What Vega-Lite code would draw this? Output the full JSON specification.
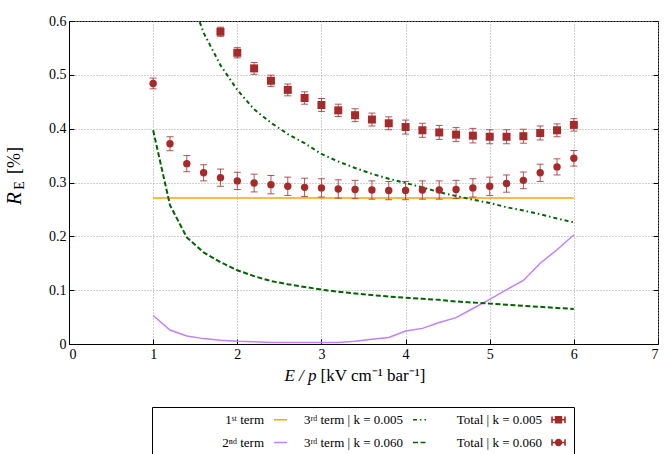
{
  "$schema": "https://vega.github.io/schema/vega-lite/v6.json",
  "width": 589,
  "height": 323,
  "autosize": "none",
  "padding": {"left": 69, "top": 21, "right": 6, "bottom": 110},
  "background": "white",
  "config": {
    "font": "Liberation Serif, Times New Roman, serif",
    "view": {"stroke": "black", "strokeWidth": 1},
    "axis": {
      "labelFont": "Liberation Serif, Times New Roman, serif", "labelFontSize": 14, "labelColor": "black",
      "titleFont": "Liberation Serif, Times New Roman, serif", "titleColor": "black", "titleFontWeight": "normal",
      "domainColor": "black", "tickColor": "black", "tickSize": -5,
      "gridColor": "#a0a0a0", "gridDash": [1, 2], "gridWidth": 1
    },
    "legend": {
      "title": null, "orient": "none", "legendX": 83, "legendY": 386,
      "direction": "horizontal", "columns": 3, "gridAlign": "all",
      "columnPadding": 5, "rowPadding": 8, "padding": 5, "strokeColor": "black",
      "symbolSize": 169, "symbolStrokeWidth": 1.6, "symbolFillColor": "#a52a2a", "symbolOpacity": 1,
      "symbolOffset": 116, "labelAlign": "right", "labelOffset": -24,
      "labelFont": "Liberation Serif, Times New Roman, serif", "labelFontSize": 13, "labelColor": "black", "labelLimit": 200
    }
  },
  "datasets": {
    "lines1": [
      {"x": 1.0, "y": 0.271, "series": "1ˢᵗ term"},
      {"x": 6.0, "y": 0.271, "series": "1ˢᵗ term"},
      {"x": 1.0, "y": 0.053, "series": "2ⁿᵈ term"},
      {"x": 1.2, "y": 0.026, "series": "2ⁿᵈ term"},
      {"x": 1.4, "y": 0.015, "series": "2ⁿᵈ term"},
      {"x": 1.6, "y": 0.010, "series": "2ⁿᵈ term"},
      {"x": 1.8, "y": 0.007, "series": "2ⁿᵈ term"},
      {"x": 2.0, "y": 0.005, "series": "2ⁿᵈ term"},
      {"x": 2.2, "y": 0.004, "series": "2ⁿᵈ term"},
      {"x": 2.4, "y": 0.003, "series": "2ⁿᵈ term"},
      {"x": 2.6, "y": 0.003, "series": "2ⁿᵈ term"},
      {"x": 2.8, "y": 0.003, "series": "2ⁿᵈ term"},
      {"x": 3.0, "y": 0.003, "series": "2ⁿᵈ term"},
      {"x": 3.2, "y": 0.003, "series": "2ⁿᵈ term"},
      {"x": 3.4, "y": 0.005, "series": "2ⁿᵈ term"},
      {"x": 3.6, "y": 0.009, "series": "2ⁿᵈ term"},
      {"x": 3.8, "y": 0.012, "series": "2ⁿᵈ term"},
      {"x": 4.0, "y": 0.024, "series": "2ⁿᵈ term"},
      {"x": 4.2, "y": 0.029, "series": "2ⁿᵈ term"},
      {"x": 4.4, "y": 0.040, "series": "2ⁿᵈ term"},
      {"x": 4.6, "y": 0.049, "series": "2ⁿᵈ term"},
      {"x": 4.8, "y": 0.066, "series": "2ⁿᵈ term"},
      {"x": 5.0, "y": 0.083, "series": "2ⁿᵈ term"},
      {"x": 5.2, "y": 0.101, "series": "2ⁿᵈ term"},
      {"x": 5.4, "y": 0.118, "series": "2ⁿᵈ term"},
      {"x": 5.6, "y": 0.150, "series": "2ⁿᵈ term"},
      {"x": 5.8, "y": 0.175, "series": "2ⁿᵈ term"},
      {"x": 6.0, "y": 0.203, "series": "2ⁿᵈ term"}
    ],
    "lines3": [
      {"x": 1.0, "y": 0.95, "series": "3ʳᵈ term | k = 0.005"},
      {"x": 1.2, "y": 0.78, "series": "3ʳᵈ term | k = 0.005"},
      {"x": 1.4, "y": 0.665, "series": "3ʳᵈ term | k = 0.005"},
      {"x": 1.6, "y": 0.578, "series": "3ʳᵈ term | k = 0.005"},
      {"x": 1.8, "y": 0.518, "series": "3ʳᵈ term | k = 0.005"},
      {"x": 2.0, "y": 0.472, "series": "3ʳᵈ term | k = 0.005"},
      {"x": 2.2, "y": 0.436, "series": "3ʳᵈ term | k = 0.005"},
      {"x": 2.4, "y": 0.411, "series": "3ʳᵈ term | k = 0.005"},
      {"x": 2.6, "y": 0.390, "series": "3ʳᵈ term | k = 0.005"},
      {"x": 2.8, "y": 0.373, "series": "3ʳᵈ term | k = 0.005"},
      {"x": 3.0, "y": 0.353, "series": "3ʳᵈ term | k = 0.005"},
      {"x": 3.2, "y": 0.339, "series": "3ʳᵈ term | k = 0.005"},
      {"x": 3.4, "y": 0.327, "series": "3ʳᵈ term | k = 0.005"},
      {"x": 3.6, "y": 0.316, "series": "3ʳᵈ term | k = 0.005"},
      {"x": 3.8, "y": 0.307, "series": "3ʳᵈ term | k = 0.005"},
      {"x": 4.0, "y": 0.299, "series": "3ʳᵈ term | k = 0.005"},
      {"x": 4.2, "y": 0.291, "series": "3ʳᵈ term | k = 0.005"},
      {"x": 4.4, "y": 0.282, "series": "3ʳᵈ term | k = 0.005"},
      {"x": 4.6, "y": 0.275, "series": "3ʳᵈ term | k = 0.005"},
      {"x": 4.8, "y": 0.268, "series": "3ʳᵈ term | k = 0.005"},
      {"x": 5.0, "y": 0.262, "series": "3ʳᵈ term | k = 0.005"},
      {"x": 5.2, "y": 0.254, "series": "3ʳᵈ term | k = 0.005"},
      {"x": 5.4, "y": 0.248, "series": "3ʳᵈ term | k = 0.005"},
      {"x": 5.6, "y": 0.241, "series": "3ʳᵈ term | k = 0.005"},
      {"x": 5.8, "y": 0.233, "series": "3ʳᵈ term | k = 0.005"},
      {"x": 6.0, "y": 0.226, "series": "3ʳᵈ term | k = 0.005"},
      {"x": 1.0, "y": 0.397, "series": "3ʳᵈ term | k = 0.060"},
      {"x": 1.2, "y": 0.258, "series": "3ʳᵈ term | k = 0.060"},
      {"x": 1.4, "y": 0.198, "series": "3ʳᵈ term | k = 0.060"},
      {"x": 1.6, "y": 0.170, "series": "3ʳᵈ term | k = 0.060"},
      {"x": 1.8, "y": 0.152, "series": "3ʳᵈ term | k = 0.060"},
      {"x": 2.0, "y": 0.137, "series": "3ʳᵈ term | k = 0.060"},
      {"x": 2.2, "y": 0.126, "series": "3ʳᵈ term | k = 0.060"},
      {"x": 2.4, "y": 0.117, "series": "3ʳᵈ term | k = 0.060"},
      {"x": 2.6, "y": 0.111, "series": "3ʳᵈ term | k = 0.060"},
      {"x": 2.8, "y": 0.106, "series": "3ʳᵈ term | k = 0.060"},
      {"x": 3.0, "y": 0.101, "series": "3ʳᵈ term | k = 0.060"},
      {"x": 3.2, "y": 0.097, "series": "3ʳᵈ term | k = 0.060"},
      {"x": 3.4, "y": 0.094, "series": "3ʳᵈ term | k = 0.060"},
      {"x": 3.6, "y": 0.091, "series": "3ʳᵈ term | k = 0.060"},
      {"x": 3.8, "y": 0.088, "series": "3ʳᵈ term | k = 0.060"},
      {"x": 4.0, "y": 0.086, "series": "3ʳᵈ term | k = 0.060"},
      {"x": 4.2, "y": 0.084, "series": "3ʳᵈ term | k = 0.060"},
      {"x": 4.4, "y": 0.082, "series": "3ʳᵈ term | k = 0.060"},
      {"x": 4.6, "y": 0.079, "series": "3ʳᵈ term | k = 0.060"},
      {"x": 4.8, "y": 0.077, "series": "3ʳᵈ term | k = 0.060"},
      {"x": 5.0, "y": 0.075, "series": "3ʳᵈ term | k = 0.060"},
      {"x": 5.2, "y": 0.073, "series": "3ʳᵈ term | k = 0.060"},
      {"x": 5.4, "y": 0.071, "series": "3ʳᵈ term | k = 0.060"},
      {"x": 5.6, "y": 0.069, "series": "3ʳᵈ term | k = 0.060"},
      {"x": 5.8, "y": 0.067, "series": "3ʳᵈ term | k = 0.060"},
      {"x": 6.0, "y": 0.065, "series": "3ʳᵈ term | k = 0.060"}
    ],
    "totals": [
      {"x": 1.8, "y": 0.580, "lo": 0.5715, "hi": 0.5885, "series": "Total | k = 0.005"},
      {"x": 2.0, "y": 0.541, "lo": 0.5315, "hi": 0.5505, "series": "Total | k = 0.005"},
      {"x": 2.2, "y": 0.512, "lo": 0.501, "hi": 0.523, "series": "Total | k = 0.005"},
      {"x": 2.4, "y": 0.489, "lo": 0.4785, "hi": 0.4995, "series": "Total | k = 0.005"},
      {"x": 2.6, "y": 0.472, "lo": 0.461, "hi": 0.483, "series": "Total | k = 0.005"},
      {"x": 2.8, "y": 0.457, "lo": 0.4455, "hi": 0.4685, "series": "Total | k = 0.005"},
      {"x": 3.0, "y": 0.444, "lo": 0.432, "hi": 0.456, "series": "Total | k = 0.005"},
      {"x": 3.2, "y": 0.434, "lo": 0.4225, "hi": 0.4455, "series": "Total | k = 0.005"},
      {"x": 3.4, "y": 0.425, "lo": 0.413, "hi": 0.437, "series": "Total | k = 0.005"},
      {"x": 3.6, "y": 0.417, "lo": 0.405, "hi": 0.429, "series": "Total | k = 0.005"},
      {"x": 3.8, "y": 0.410, "lo": 0.398, "hi": 0.422, "series": "Total | k = 0.005"},
      {"x": 4.0, "y": 0.403, "lo": 0.390, "hi": 0.416, "series": "Total | k = 0.005"},
      {"x": 4.2, "y": 0.397, "lo": 0.384, "hi": 0.410, "series": "Total | k = 0.005"},
      {"x": 4.4, "y": 0.393, "lo": 0.380, "hi": 0.406, "series": "Total | k = 0.005"},
      {"x": 4.6, "y": 0.389, "lo": 0.376, "hi": 0.402, "series": "Total | k = 0.005"},
      {"x": 4.8, "y": 0.387, "lo": 0.3735, "hi": 0.4005, "series": "Total | k = 0.005"},
      {"x": 5.0, "y": 0.385, "lo": 0.372, "hi": 0.398, "series": "Total | k = 0.005"},
      {"x": 5.2, "y": 0.385, "lo": 0.372, "hi": 0.398, "series": "Total | k = 0.005"},
      {"x": 5.4, "y": 0.386, "lo": 0.373, "hi": 0.399, "series": "Total | k = 0.005"},
      {"x": 5.6, "y": 0.392, "lo": 0.379, "hi": 0.405, "series": "Total | k = 0.005"},
      {"x": 5.8, "y": 0.397, "lo": 0.385, "hi": 0.409, "series": "Total | k = 0.005"},
      {"x": 6.0, "y": 0.407, "lo": 0.3955, "hi": 0.4185, "series": "Total | k = 0.005"},
      {"x": 1.0, "y": 0.484, "lo": 0.474, "hi": 0.494, "series": "Total | k = 0.060"},
      {"x": 1.2, "y": 0.372, "lo": 0.359, "hi": 0.385, "series": "Total | k = 0.060"},
      {"x": 1.4, "y": 0.335, "lo": 0.320, "hi": 0.350, "series": "Total | k = 0.060"},
      {"x": 1.6, "y": 0.318, "lo": 0.303, "hi": 0.333, "series": "Total | k = 0.060"},
      {"x": 1.8, "y": 0.309, "lo": 0.293, "hi": 0.325, "series": "Total | k = 0.060"},
      {"x": 2.0, "y": 0.303, "lo": 0.287, "hi": 0.319, "series": "Total | k = 0.060"},
      {"x": 2.2, "y": 0.299, "lo": 0.2825, "hi": 0.3155, "series": "Total | k = 0.060"},
      {"x": 2.4, "y": 0.296, "lo": 0.279, "hi": 0.313, "series": "Total | k = 0.060"},
      {"x": 2.6, "y": 0.293, "lo": 0.276, "hi": 0.310, "series": "Total | k = 0.060"},
      {"x": 2.8, "y": 0.291, "lo": 0.274, "hi": 0.308, "series": "Total | k = 0.060"},
      {"x": 3.0, "y": 0.290, "lo": 0.273, "hi": 0.307, "series": "Total | k = 0.060"},
      {"x": 3.2, "y": 0.288, "lo": 0.271, "hi": 0.305, "series": "Total | k = 0.060"},
      {"x": 3.4, "y": 0.287, "lo": 0.270, "hi": 0.304, "series": "Total | k = 0.060"},
      {"x": 3.6, "y": 0.286, "lo": 0.269, "hi": 0.303, "series": "Total | k = 0.060"},
      {"x": 3.8, "y": 0.285, "lo": 0.268, "hi": 0.302, "series": "Total | k = 0.060"},
      {"x": 4.0, "y": 0.285, "lo": 0.268, "hi": 0.302, "series": "Total | k = 0.060"},
      {"x": 4.2, "y": 0.286, "lo": 0.269, "hi": 0.303, "series": "Total | k = 0.060"},
      {"x": 4.4, "y": 0.286, "lo": 0.269, "hi": 0.303, "series": "Total | k = 0.060"},
      {"x": 4.6, "y": 0.287, "lo": 0.270, "hi": 0.304, "series": "Total | k = 0.060"},
      {"x": 4.8, "y": 0.290, "lo": 0.273, "hi": 0.307, "series": "Total | k = 0.060"},
      {"x": 5.0, "y": 0.293, "lo": 0.276, "hi": 0.310, "series": "Total | k = 0.060"},
      {"x": 5.2, "y": 0.298, "lo": 0.282, "hi": 0.314, "series": "Total | k = 0.060"},
      {"x": 5.4, "y": 0.304, "lo": 0.2885, "hi": 0.3195, "series": "Total | k = 0.060"},
      {"x": 5.6, "y": 0.318, "lo": 0.302, "hi": 0.334, "series": "Total | k = 0.060"},
      {"x": 5.8, "y": 0.329, "lo": 0.314, "hi": 0.344, "series": "Total | k = 0.060"},
      {"x": 6.0, "y": 0.345, "lo": 0.3305, "hi": 0.3595, "series": "Total | k = 0.060"}
    ],
    "dummy": [{"v": 0}]
  },
  "layer": [
    {
      "encoding": {
        "x": {
          "field": "x", "type": "quantitative",
          "scale": {"domain": [0, 7], "nice": false, "zero": false},
          "axis": {
            "orient": "bottom",
            "title": "E / p", "titleFontStyle": "italic", "titleFontSize": 17,
            "titleX": 247, "titleY": 36, "titleAlign": "right", "titleBaseline": "alphabetic",
            "values": [0, 1, 2, 3, 4, 5, 6, 7], "format": "d", "labelPadding": 8, "labelAngle": 0
          }
        },
        "color": {
          "field": "series", "type": "nominal",
          "scale": {
            "domain": ["1ˢᵗ term", "3ʳᵈ term | k = 0.005", "Total | k = 0.005", "2ⁿᵈ term", "3ʳᵈ term | k = 0.060", "Total | k = 0.060"],
            "range": ["#ffa500", "#006400", "#a52a2a", "#c080ff", "#006400", "#a52a2a"]
          },
          "legend": {}
        }
      },
      "layer": [
        {
          "data": {"name": "lines1"},
          "mark": {"type": "line", "strokeWidth": 1.5, "clip": true},
          "encoding": {
            "y": {
              "field": "y", "type": "quantitative", "title": "R",
              "scale": {"domain": [0, 0.6], "nice": false, "zero": false},
              "axis": {
                "orient": "left",
                "title": "R", "titleFontStyle": "italic", "titleFontSize": 21,
                "titleAngle": -90, "titleX": -49, "titleY": 177, "titleAlign": "center", "titleBaseline": "alphabetic",
                "values": [0, 0.1, 0.2, 0.3, 0.4, 0.5, 0.6],
                "labelExpr": "datum.value === 0 ? '0' : format(datum.value, '.1f')",
                "labelPadding": 8
              }
            }
          }
        },
        {
          "data": {"name": "lines3"},
          "mark": {"type": "line", "strokeWidth": 2, "clip": true},
          "encoding": {
            "y": {"field": "y", "type": "quantitative", "title": "R"},
            "strokeDash": {
              "field": "series", "type": "nominal",
              "scale": {
                "domain": ["1ˢᵗ term", "3ʳᵈ term | k = 0.005", "Total | k = 0.005", "2ⁿᵈ term", "3ʳᵈ term | k = 0.060", "Total | k = 0.060"],
                "range": [[1, 0], [4, 3, 1.5, 3], [1, 0], [1, 0], [5, 2.5], [1, 0]]
              },
              "legend": {}
            }
          }
        },
        {
          "data": {"name": "totals"},
          "mark": {"type": "errorbar", "ticks": true, "size": 7, "thickness": 1, "opacity": 0.8},
          "encoding": {
            "y": {"field": "lo", "type": "quantitative", "title": "R"},
            "y2": {"field": "hi"}
          }
        },
        {
          "data": {"name": "totals"},
          "transform": [{"filter": "datum.series === 'Total | k = 0.005'"}],
          "mark": {"type": "square", "size": 64, "opacity": 1},
          "encoding": {
            "y": {"field": "y", "type": "quantitative", "title": "R"}
          }
        },
        {
          "data": {"name": "totals"},
          "transform": [{"filter": "datum.series === 'Total | k = 0.060'"}],
          "mark": {"type": "circle", "size": 55, "opacity": 1},
          "encoding": {
            "y": {"field": "y", "type": "quantitative", "title": "R"}
          }
        },
        {
          "data": {"name": "totals"},
          "mark": {"type": "point", "filled": true, "opacity": 0},
          "encoding": {
            "y": {"field": "y", "type": "quantitative", "title": "R"},
            "shape": {
              "field": "series", "type": "nominal",
              "scale": {
                "domain": ["1ˢᵗ term", "3ʳᵈ term | k = 0.005", "Total | k = 0.005", "2ⁿᵈ term", "3ʳᵈ term | k = 0.060", "Total | k = 0.060"],
                "range": ["stroke", "stroke", "M-1,0H1M-1,-0.5V0.5M1,-0.5V0.5M-0.45,-0.45H0.45V0.45H-0.45Z", "stroke", "stroke", "M-1,0H1M-1,-0.5V0.5M1,-0.5V0.5M-0.45,0A0.45,0.45,0,1,0,0.45,0A0.45,0.45,0,1,0,-0.45,0Z"]
              },
              "legend": {}
            }
          }
        }
      ]
    },
    {
      "data": {"name": "dummy"},
      "mark": {"type": "rule", "opacity": 0},
      "encoding": {
        "y": {
          "field": "v", "type": "quantitative",
          "scale": {"domain": [0, 0.6], "nice": false, "zero": false},
          "axis": {
            "orient": "left", "title": "E", "titleFontSize": 14, "titleFontStyle": "normal",
            "titleAngle": -90, "titleX": -45.5, "titleY": 164, "titleAlign": "center", "titleBaseline": "alphabetic",
            "labels": false, "ticks": false, "domain": false, "grid": false
          }
        }
      }
    },
    {
      "data": {"name": "dummy"},
      "mark": {"type": "rule", "opacity": 0},
      "encoding": {
        "y": {
          "field": "v", "type": "quantitative",
          "scale": {"domain": [0, 0.6], "nice": false, "zero": false},
          "axis": {
            "orient": "left", "title": "[%]", "titleFontSize": 18, "titleFontStyle": "normal",
            "titleAngle": -90, "titleX": -50, "titleY": 139, "titleAlign": "center", "titleBaseline": "alphabetic",
            "labels": false, "ticks": false, "domain": false, "grid": false
          }
        }
      }
    },
    {
      "data": {"name": "dummy"},
      "mark": {"type": "rule", "opacity": 0},
      "encoding": {
        "y": {
          "field": "v", "type": "quantitative",
          "scale": {"domain": [0, 0.6], "nice": false, "zero": false},
          "axis": {
            "orient": "right", "title": null, "labels": false, "domain": false, "grid": false,
            "ticks": true, "tickSize": -5, "values": [0, 0.1, 0.2, 0.3, 0.4, 0.5, 0.6]
          }
        }
      }
    },
    {
      "data": {"name": "dummy"},
      "mark": {"type": "point", "opacity": 0},
      "encoding": {
        "x": {
          "field": "v", "type": "quantitative",
          "scale": {"domain": [0, 7], "nice": false, "zero": false},
          "axis": {
            "orient": "bottom", "title": "[kV cm⁻¹ bar⁻¹]", "titleFontSize": 17, "titleFontStyle": "normal",
            "titleX": 251, "titleY": 36, "titleAlign": "left", "titleBaseline": "alphabetic",
            "labels": false, "ticks": false, "domain": false, "grid": false
          }
        }
      }
    }
  ],
  "resolve": {"axis": {"x": "independent", "y": "independent"}}
}
